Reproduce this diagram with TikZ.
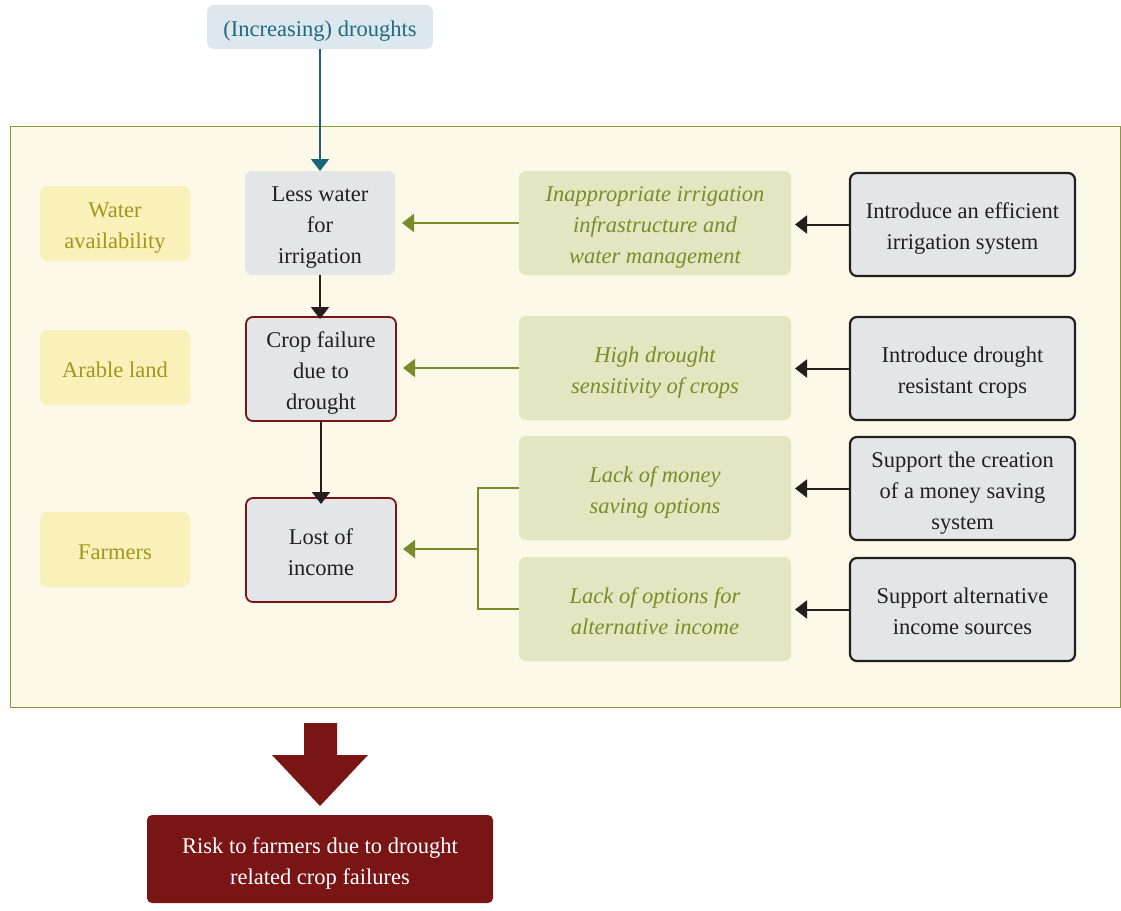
\documentclass[tikz,border=0pt]{standalone}
\usepackage{fontspec}
\setmainfont{Liberation Serif}
\usetikzlibrary{arrows.meta}
\definecolor{frameFill}{HTML}{FCF9E8}
\definecolor{frameLine}{HTML}{8A9A3A}
\definecolor{topFill}{HTML}{DDE8EE}
\definecolor{topText}{HTML}{1F6A80}
\definecolor{topLine}{HTML}{1A6678}
\definecolor{tagFill}{HTML}{FAF0B9}
\definecolor{tagText}{HTML}{A3961E}
\definecolor{greyFill}{HTML}{E4E5E7}
\definecolor{darkRed}{HTML}{7A1515}
\definecolor{causeFill}{HTML}{E2E7C1}
\definecolor{causeText}{HTML}{7A8C2A}
\definecolor{ink}{HTML}{231F20}
\begin{document}
\begin{tikzpicture}[x=1pt,y=-1pt,
  every node/.style={font=\fontsize{22.5}{31}\selectfont, align=center, inner sep=0pt, outer sep=0pt,
    % fixed text height and depth keep the lines evenly placed in every box
    execute at begin node={\rule{0pt}{25.5pt}},
    execute at end node={\rule[-6pt]{0pt}{6pt}}},
  two/.style={execute at begin node={\rule{0pt}{56.5pt}}},
  three/.style={execute at begin node={\rule{0pt}{87.5pt}}},
  box/.style={rounded corners=7pt, minimum width=#1, anchor=north west},
  tag/.style={box=150pt, fill=tagFill, text=tagText, minimum height=75pt},
  effect/.style={box=150pt, fill=greyFill, text=ink, minimum height=104pt},
  effectred/.style={effect, draw=darkRed, line width=1.8pt},
  cause/.style={box=272pt, fill=causeFill, text=causeText, minimum height=104pt, font=\fontsize{22.5}{31}\selectfont\itshape},
  measure/.style={box=225pt, fill=greyFill, text=ink, draw=ink, line width=2.2pt, minimum height=103pt},
  tip/.style={-{Triangle[width=18pt,length=12pt]}},
  blackarrow/.style={tip, draw=ink, line width=2pt},
  greenarrow/.style={tip, draw=causeText, line width=2pt},
]
\useasboundingbox (0,0) rectangle (1121,910);

% outer frame
\draw[fill=frameFill, draw=frameLine, line width=1pt] (10,126) rectangle (1120,707);

% driver at the top
\node[box=226pt, fill=topFill, text=topText, minimum height=44pt] (drought) at (207,5) {(Increasing) droughts};

% row tags
\node[tag, two] (water) at (40,186) {Water\\availability};
\node[tag] (land) at (40,330) {Arable land};
\node[tag] (farmers) at (40,512) {Farmers};

% effect chain
\node[effect, three] (less) at (245,171) {Less water\\for\\irrigation};
\node[effectred, three] (crop) at (246,317) {Crop failure\\due to\\drought};
\node[effectred, two] (income) at (246,498) {Lost of\\income};

% causes
\node[cause, three] (infra) at (519,171) {Inappropriate irrigation\\infrastructure and\\water management};
\node[cause, two] (sens) at (519,316) {High drought\\sensitivity of crops};
\node[cause, two] (money) at (519,436) {Lack of money\\saving options};
\node[cause, two] (alt) at (519,557) {Lack of options for\\alternative income};

% measures
\node[measure, two] (m1) at (850,173) {Introduce an efficient\\irrigation system};
\node[measure, two] (m2) at (850,317) {Introduce drought\\resistant crops};
\node[measure, three] (m3) at (850,437) {Support the creation\\of a money saving\\system};
\node[measure, two] (m4) at (850,558) {Support alternative\\income sources};

% connectors
\draw[tip, draw=topLine, line width=2pt] (drought.south) -- (less.north);
\draw[blackarrow] (less.south) -- ([yshift=-2pt]less.south |- crop.north);
\draw[blackarrow] (crop.south) -- ([yshift=-6pt]crop.south |- income.north);

\draw[greenarrow] (infra.west) -- ([xshift=7pt]less.east |- infra.west);
\draw[greenarrow] (sens.west) -- ([xshift=7pt]crop.east |- sens.west);
\coordinate (join) at (478,549);
\draw[draw=causeText, line width=2pt] (money.west) -| (join) |- (alt.west);
\draw[greenarrow] (join) -- ([xshift=7pt]income.east |- join);

\draw[blackarrow] (m1.west) -- ([xshift=4pt]infra.east |- m1.west);
\draw[blackarrow] (m2.west) -- ([xshift=4pt]sens.east |- m2.west);
\draw[blackarrow] (m3.west) -- ([xshift=4pt]money.east |- m3.west);
\draw[blackarrow] (m4.west) -- ([xshift=4pt]alt.east |- m4.west);

% outcome
\node[box=346pt, fill=darkRed, text=white, minimum height=88pt, rounded corners=5pt, two] (risk) at (147,815) {Risk to farmers due to drought\\related crop failures};
\fill[darkRed] (304,723) -- (337,723) -- (337,755) -- (368,755) -- (320,806) -- (272,755) -- (304,755) -- cycle;
\end{tikzpicture}
\end{document}
